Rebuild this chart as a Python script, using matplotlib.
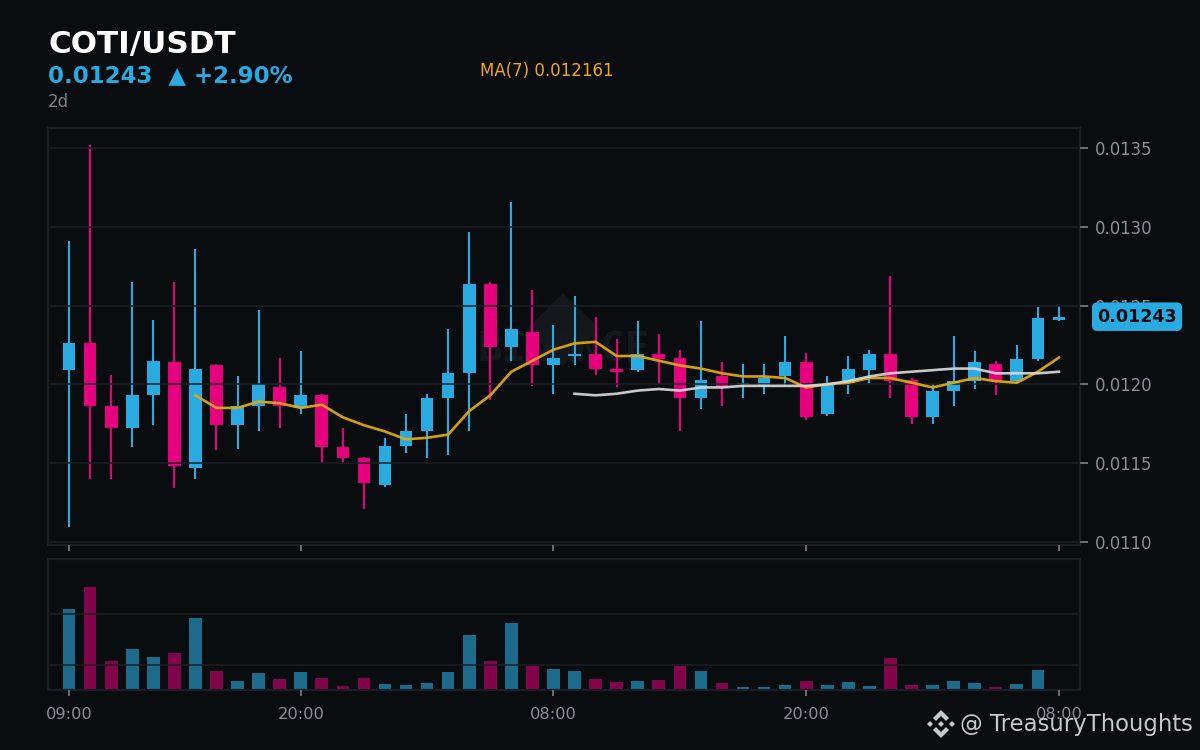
import matplotlib
matplotlib.use("Agg")
import numpy as np
import matplotlib.pyplot as plt
from matplotlib.patches import Polygon

BG = "#0a0d10"
BLUE = "#29abe2"
PINK = "#e6007e"
GRID = "#1b1f23"
GREY = "#8a8f98"
LOGO = "#c8c8c8"
W, H = 1200, 750

opens = [.01209, .01226, .01186, .01172, .01193, .01214, .01147, .01212, .01174, .01186,
         .01198, .01185, .01193, .01160, .01153, .01136, .01161, .01170, .01191, .01207,
         .01264, .01224, .01233, .01212, .01218, .01219, .01210, .01209, .01219, .01217,
         .01191, .01205, .01200, .01199, .01205, .01214, .01181, .01201, .01209, .01219,
         .01203, .01179, .01196, .01202, .01213, .01202, .01216, .01241]
closes = [.01226, .01186, .01172, .01193, .01215, .01148, .01210, .01174, .01186, .01200,
          .01186, .01193, .01160, .01153, .01137, .01161, .01170, .01191, .01207, .01264,
          .01224, .01235, .01212, .01217, .01219, .01210, .01208, .01219, .01216, .01191,
          .01203, .01198, .01201, .01204, .01214, .01179, .01200, .01210, .01219, .01202,
          .01179, .01196, .01202, .01214, .01202, .01216, .01242, .01243]
highs = [.01291, .01352, .01206, .01265, .01241, .01265, .01286, .01213, .01205, .01247,
         .01217, .01221, .01194, .01172, .01154, .01166, .01181, .01194, .01235, .01297,
         .01265, .01316, .01260, .01238, .01256, .01243, .01229, .01240, .01232, .01222,
         .01240, .01214, .01213, .01213, .01231, .01220, .01205, .01218, .01222, .01269,
         .01204, .01200, .01231, .01221, .01215, .01225, .01249, .01250]
lows = [.01109, .01140, .01140, .01160, .01174, .01134, .01140, .01158, .01159, .01170,
        .01172, .01181, .01150, .01150, .01121, .01135, .01156, .01153, .01155, .01170,
        .01190, .01215, .01199, .01194, .01212, .01206, .01198, .01208, .01200, .01170,
        .01184, .01186, .01191, .01194, .01199, .01177, .01180, .01194, .01200, .01191,
        .01175, .01175, .01186, .01197, .01193, .01201, .01215, .01240]
volumes = [31.9, 40.9, 11.5, 16.2, 13.1, 15.0, 28.4, 7.6, 4.0, 6.8, 4.8, 7.2, 5.2, 1.7, 5.2, 2.5,
           2.1, 2.9, 7.2, 21.7, 11.5, 26.4, 9.9, 8.4, 7.6, 4.8, 3.3, 4.0, 4.4, 9.9, 7.6, 2.9,
           1.3, 1.3, 2.1, 4.0, 2.1, 3.3, 1.7, 12.7, 2.1, 2.1, 4.0, 2.9, 1.3, 2.5, 8.0, 0.5]
ma7 = [.01193, .01185, .01185, .01189, .01188, .01185, .01187, .01179, .01174, .01170,
       .01165, .01166, .01168, .01183, .01193, .01208, .01215, .01222, .01226, .01227,
       .01218, .01218, .01215, .01212, .01210, .01207, .01205, .01205, .01204, .01198,
       .01200, .01201, .01204, .01204, .01201, .01198, .01201, .01204, .01202, .01201,
       .01208, .01217]
ma25 = [.01194, .01193, .01194, .01196, .01197, .01196, .01198, .01198, .01199, .01199,
        .01199, .01199, .01200, .01202, .01205, .01207, .01208, .01209, .01210, .01210,
        .01207, .01207, .01207, .01208]
price_ticks = [.0110, .0115, .0120, .0125, .0130, .0135]
vol_grid = [10, 30]
tick_idx = [0, 11, 23, 35, 47]
tick_labels = ["09:00", "20:00", "08:00", "20:00", "08:00"]

plt.rcParams["font.family"] = "DejaVu Sans"


def px_axes(fig, left, top, right, bottom):
    return fig.add_axes([left / W, 1 - bottom / H, (right - left) / W, (bottom - top) / H])


def to_fig(points, cx, cy):
    return [((cx + a) / W, 1 - (cy + b) / H) for a, b in points]


def style_axes(ax):
    ax.set_facecolor(BG)
    for s in ax.spines.values():
        s.set_color(GRID)
        s.set_linewidth(1.6)
    ax.set_xlim(-1.0, 48.0)
    ax.set_xticks(tick_idx)
    ax.set_xticklabels(tick_labels)
    ax.tick_params(axis="x", length=4, width=1.4, color="#6b7078", labelcolor=GREY,
                   labelsize=11.7, pad=8)


fig = plt.figure(figsize=(W / 100, H / 100), dpi=100, facecolor=BG)
ax = px_axes(fig, 48, 128, 1080, 545)
vax = px_axes(fig, 48, 559, 1080, 690)
style_axes(ax)
style_axes(vax)

x = np.arange(len(opens))
o = np.array(opens)
c = np.array(closes)
colors = [BLUE if b >= a else PINK for a, b in zip(opens, closes)]

# watermark sits behind the candles
ax.add_patch(Polygon(to_fig([(-36, -37), (0, -73), (37, -37), (0, 0)], 563, 366), transform=fig.transFigure,
                     fc="#14181c", ec="none", zorder=0.5))
ax.text(564 / W, 1 - 350 / H, "BINANCE", transform=fig.transFigure, family="DejaVu Sans Mono", weight="bold",
        fontsize=29.5, color="#15191d", ha="center", va="center", zorder=0.6)

ax.vlines(x, lows, highs, colors=colors, linewidth=1.5, zorder=2)
ax.bar(x, np.abs(c - o), bottom=np.minimum(o, c), width=0.6, color=colors, zorder=2)
ax.set_yticks(price_ticks)
ax.set_yticklabels(["%.4f" % v for v in price_ticks])
ax.set_ylim(0.010978, 0.01363)
ax.yaxis.tick_right()
ax.tick_params(axis="y", length=6, width=1.4, color="#6b7078", labelcolor=GREY, labelsize=11.9, pad=5)
ax.grid(axis="y", color=GRID, linewidth=1.1, zorder=3)
ax.set_axisbelow(False)

ax.plot(x[6:], ma7, color="#e0a80f", linewidth=1.9, alpha=0.95, zorder=4)
ax.plot(x[24:], ma25, color="#dcdcdc", linewidth=1.9, alpha=0.9, zorder=4)

ax.text(1.0553, closes[-1], "%.5f" % closes[-1], transform=ax.get_yaxis_transform(), clip_on=False,
        fontsize=12.6, weight="bold", color=BG, ha="center", va="center", zorder=6,
        bbox=dict(boxstyle="round,pad=0.3,rounding_size=0.3", fc=BLUE, ec="none"))

for a, b, col in zip(x, volumes, colors):
    vax.bar(a, b, width=0.6, color=col, alpha=0.6 if col == BLUE else 0.55, zorder=2)
vax.set_ylim(0.3, 51.7)
vax.set_yticks(vol_grid)
vax.set_yticklabels([])
vax.tick_params(axis="y", length=0)
vax.grid(axis="y", color=GRID, linewidth=1.1, zorder=3)
vax.set_axisbelow(False)

# header
fig.text(49 / W, 1 - 45 / H, "COTI/USDT", color="white", fontsize=22.3, weight="bold", va="center")
fig.text(48 / W, 1 - 76 / H, "0.01243  \u25b2 +2.90%", color=BLUE, fontsize=16.5, weight="bold", va="center")
fig.text(48 / W, 1 - 102 / H, "2d", color="#7c8087", fontsize=12, va="center")
fig.text(480 / W, 1 - 71 / H, "MA(7) 0.012161", color="#f0a90f", fontsize=12, va="center")

# signature, bottom right
fig.text(960 / W, 1 - 725 / H, "@ TreasuryThoughts", color=LOGO, fontsize=16.35, va="center", zorder=10)
chevron = [(0, -14), (8, -6), (5, -3), (0, -8), (-5, -3), (-8, -6)]
shapes = [to_fig(chevron, 941, 724), to_fig([(a, -b) for a, b in chevron], 941, 724)]
for cx in (930, 941, 952):
    shapes.append(to_fig([(-3, 0), (0, -3), (3, 0), (0, 3)], cx, 724))
for pts in shapes:
    fig.add_artist(Polygon(pts, transform=fig.transFigure, fc=LOGO, ec="none"))

fig.savefig("out.png", dpi=100, facecolor=BG)
